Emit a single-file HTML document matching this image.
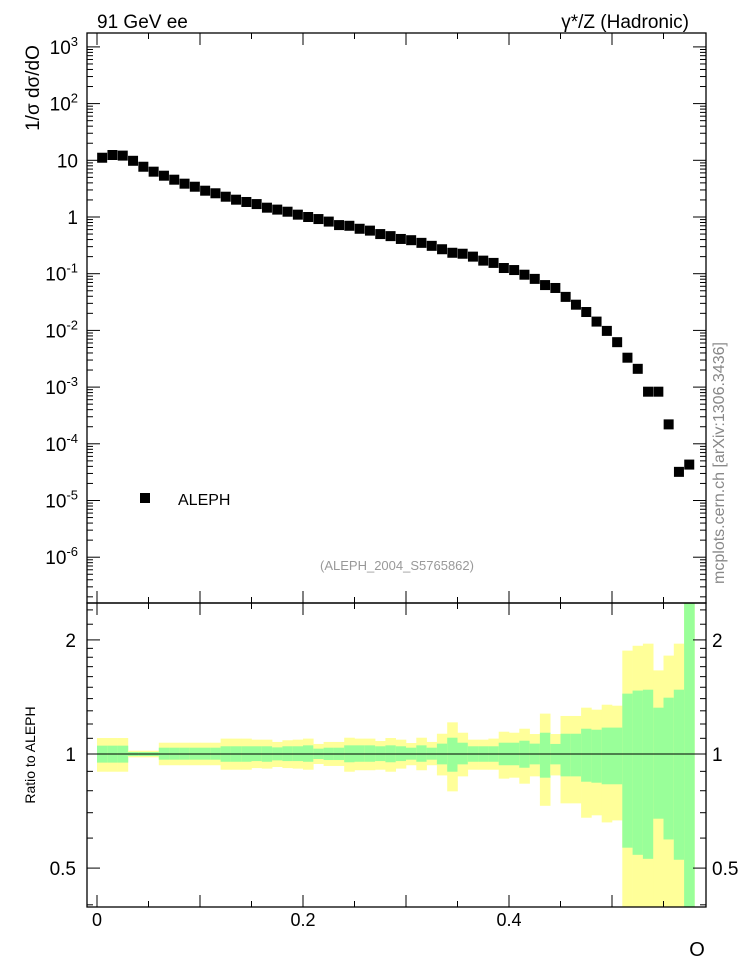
<!DOCTYPE html>
<html><head><meta charset="utf-8"><style>
html,body{margin:0;padding:0;background:#fff}
svg{display:block;font-family:"Liberation Sans",sans-serif}
</style></head><body>
<svg id="c" width="746" height="972" viewBox="0 0 746 972" xmlns="http://www.w3.org/2000/svg">
<text x="97" y="28" font-size="19">91 GeV ee</text>
<text x="689" y="28" font-size="19" text-anchor="end">γ*/Z (Hadronic)</text>
<text transform="translate(39,88) rotate(-90)" font-size="19" text-anchor="middle">1/σ  dσ/dO</text>
<text transform="translate(35,755) rotate(-90)" font-size="14" text-anchor="middle">Ratio to ALEPH</text>
<text transform="translate(724,463) rotate(-90)" font-size="16" fill="#888" text-anchor="middle">mcplots.cern.ch [arXiv:1306.3436]</text>
<text x="397" y="570" font-size="13" fill="#999" text-anchor="middle">(ALEPH_2004_S5765862)</text>
<rect x="140" y="493" width="10" height="10" fill="#000"/>
<text x="178" y="505" font-size="16">ALEPH</text>
<text x="697" y="956" font-size="20" text-anchor="middle">O</text>
<g id="bands"></g><g id="pts"></g><g id="axes"></g>
</svg>
<script>
const values=[11.1,12.4,12.1,9.8,7.7,6.3,5.35,4.55,3.87,3.42,2.91,2.62,2.28,2.02,1.84,1.69,1.46,1.35,1.24,1.10,1.0,0.92,0.83,0.72,0.70,0.62,0.575,0.50,0.46,0.41,0.39,0.35,0.31,0.27,0.234,0.225,0.20,0.17,0.155,0.126,0.116,0.096,0.081,0.063,0.056,0.039,0.0284,0.0211,0.0143,0.0098,0.0062,0.0033,0.0021,0.00083,0.00083,0.00022,3.2e-5,4.3e-5];
const yelHi=[1.102,1.102,1.102,1.020,1.020,1.020,1.071,1.071,1.071,1.071,1.071,1.071,1.098,1.098,1.098,1.091,1.091,1.076,1.087,1.091,1.098,1.063,1.076,1.076,1.104,1.098,1.098,1.082,1.102,1.091,1.069,1.104,1.076,1.131,1.212,1.138,1.091,1.091,1.098,1.145,1.138,1.166,1.129,1.278,1.129,1.260,1.260,1.325,1.309,1.349,1.341,1.874,1.930,1.955,1.662,1.818,1.955,3];
const grnHi=[1.052,1.052,1.052,1.012,1.012,1.012,1.039,1.039,1.039,1.039,1.039,1.039,1.048,1.048,1.048,1.048,1.048,1.041,1.048,1.048,1.054,1.033,1.039,1.039,1.054,1.054,1.054,1.048,1.054,1.048,1.039,1.054,1.039,1.065,1.104,1.071,1.048,1.048,1.048,1.071,1.071,1.084,1.065,1.138,1.063,1.131,1.131,1.166,1.159,1.174,1.174,1.443,1.470,1.478,1.325,1.408,1.478,3];
const grnLo=[0.949,0.949,0.949,0.988,0.988,0.988,0.966,0.966,0.966,0.966,0.966,0.966,0.954,0.954,0.954,0.958,0.954,0.962,0.958,0.958,0.954,0.970,0.964,0.964,0.951,0.954,0.954,0.958,0.951,0.958,0.966,0.954,0.966,0.939,0.898,0.939,0.954,0.954,0.954,0.934,0.934,0.920,0.939,0.866,0.939,0.873,0.873,0.845,0.840,0.832,0.832,0.566,0.542,0.529,0.675,0.595,0.526,0.3];
const yelLo=[0.898,0.898,0.898,0.980,0.980,0.980,0.934,0.934,0.934,0.934,0.934,0.934,0.909,0.909,0.909,0.918,0.915,0.924,0.918,0.915,0.909,0.941,0.930,0.930,0.898,0.906,0.906,0.909,0.898,0.915,0.934,0.906,0.934,0.878,0.797,0.873,0.909,0.909,0.909,0.861,0.866,0.835,0.873,0.730,0.878,0.741,0.741,0.679,0.689,0.660,0.668,0.3,0.3,0.3,0.3,0.3,0.3,0.3];
const xTickLabels=["0","0.2","0.4"];
const binW=0.01;
const NS="http://www.w3.org/2000/svg";
const L=87,R=706,T=33,M=603,B=907;
function X(v){return 97+1030*v;}
function Y(v){return 217-56.7*Math.log10(v);}
function YR(v){return Math.max(M,Math.min(B,754-379*Math.log10(v)));}
function mk(tag,a,p){const e=document.createElementNS(NS,tag);for(const k in a)e.setAttribute(k,a[k]);p.appendChild(e);return e;}
const bands=document.getElementById('bands'),pts=document.getElementById('pts'),axes=document.getElementById('axes');
for(let i=0;i<values.length;i++){
  const x0=X(i*binW),x1=X((i+1)*binW);
  const yb=mk('rect',{x:x0,y:YR(yelHi[i]),width:x1-x0+0.3,height:YR(yelLo[i])-YR(yelHi[i]),fill:'#ffff99'},bands);
  
  
  const gb=mk('rect',{x:x0,y:YR(grnHi[i]),width:x1-x0+0.3,height:YR(grnLo[i])-YR(grnHi[i]),fill:'#99ff99'},bands);
  
  
  const cx=X((i+0.5)*binW),cy=Y(values[i]);
  if(cy>T&&cy<M){
    const p=mk('rect',{x:cx-5,y:cy-5,width:10,height:10,fill:'#000'},pts);
    
    
  }
}
mk('line',{x1:L,x2:R,y1:754,y2:754,stroke:'#000','stroke-width':1},axes);
let f1=mk('rect',{x:L,y:T,width:R-L,height:M-T,fill:'none',stroke:'#000','stroke-width':1.3},axes);


let f2=mk('rect',{x:L,y:M,width:R-L,height:B-M,fill:'none',stroke:'#000','stroke-width':1.3},axes);


for(let k=0;k<=11;k++){
  const v=k*0.05,x=X(v),len=(k%2==0)?12:6;
  for(const [y0,d] of [[T,1],[M,-1],[M,1],[B,-1]]) mk('line',{x1:x,x2:x,y1:y0,y2:y0+d*len,stroke:'#000'},axes);
}
xTickLabels.forEach((s,i)=>{const t=mk('text',{x:X(i*0.2),y:926,'font-size':18,'text-anchor':'middle'},axes);t.textContent=s;

});
for(let e=-7;e<=3;e++){
  for(let m=1;m<=9;m++){
    const v=m*Math.pow(10,e),y=Y(v);if(y<T||y>M)continue;
    const len=m==1?13:6;
    mk('line',{x1:L,x2:L+len,y1:y,y2:y,stroke:'#000'},axes);
    mk('line',{x1:R,x2:R-len,y1:y,y2:y,stroke:'#000'},axes);
  }
  const y=Y(Math.pow(10,e));if(y<T||y>M)continue;
  const t=mk('text',{x:78,y:y+7,'font-size':19,'text-anchor':'end'},axes);
  
  
  if(e==0)t.textContent='1';else if(e==1)t.textContent='10';
  else{const b=document.createElementNS(NS,'tspan');b.textContent='10';t.appendChild(b);
    const s=document.createElementNS(NS,'tspan');s.setAttribute('dy','-8');s.setAttribute('font-size','13');s.textContent=String(e);t.appendChild(s);}
}
const rmaj=[0.5,1,2],rmin=[0.4,0.6,0.7,0.8,0.9,1.1,1.2,1.3,1.4,1.5,1.6,1.7,1.8,1.9,2.2,2.4];
rmaj.forEach(v=>{const y=YR(v);mk('line',{x1:L,x2:L+13,y1:y,y2:y,stroke:'#000'},axes);mk('line',{x1:R,x2:R-13,y1:y,y2:y,stroke:'#000'},axes);
  const a=mk('text',{x:76,y:y+7,'font-size':19,'text-anchor':'end'},axes);a.textContent=String(v);
  
  
  const b=mk('text',{x:712,y:y+7,'font-size':19},axes);b.textContent=String(v);
  
  });
rmin.forEach(v=>{const y=YR(v);mk('line',{x1:L,x2:L+6,y1:y,y2:y,stroke:'#000'},axes);mk('line',{x1:R,x2:R-6,y1:y,y2:y,stroke:'#000'},axes);});
</script>
</body></html>
